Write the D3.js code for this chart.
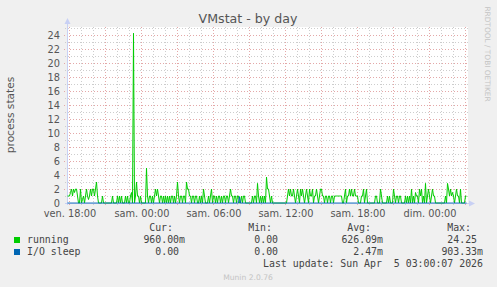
<!DOCTYPE html>
<html><head><meta charset="utf-8">
<script src="https://cdn.jsdelivr.net/npm/d3@7/dist/d3.min.js"></script>
<style>html,body{margin:0;padding:0;background:#F0F0F0;}svg{display:block}</style>
</head><body>
<svg id="chart" width="497" height="287"></svg>
<script>
// ---------- DATA ----------
const title = "VMstat - by day";
const yAxisLabel = "process states";
const startTime = new Date(2026, 3, 3, 17, 50); // first sample, 5-minute steps
const stepMinutes = 5;
const running = [
1,1,1,1.5,2,1,2,1.5,2,2,1,0,0,2,0,0.5,1,0,1,2,
1,0.5,1,2,1,2,2,1,2,3,1,0,0,0,0,1,0,0,0,0,
0,0,0,0,0,1,0,0,0,0,1,0,1,0,1,0,0,0,1,0,
1,0,0,1,1.5,0,24.25,0,1,3,1,1,0,1,0,0,0,0,0,5,
1,0,1,1,0,1,0,1,2,1,2,1,0,1,1,0,1,0,1,0,
1,0,1,0,1,1,0,1,0,1,3,1,0,1,1,0,1,1,0,3,
2,2,1,1,0,1,1,0,1,1,0,0,1,0,1,0,2,1,0,0,
0,1,0,1,2,0,1,1,0,1,0,1,1,0,1,0,1,1,0,1,
1,0,1,2,1,1,0,1,1,0,1,1,0,0,1,0,1,1,0,0,
0,0,0,0,0,1,0,1,1,0,2.8,1,0,1,0,1,0,1,0,3.7,
2,2,1,0,1,0,0,0,0,0,0,0,0,0,0,0,0,0,0,0,
1,2,1,2,1,1,2,1,0,1,2,1,0,2,1,2,1,0,1,2,
1,0,2,1,1,2,0,1,1,2,1,0,1,2,2,1,1,0,1,1,
0,1,1,0,1,1,0,1,1,1,1,1,1,1,1,0,0,1,2,0,
1,1,2,1,2,1,1,2,1,1,1,0,0,0,1,1,2,0,1,2,
0,0,0,0,0,0,0,0,1,1,0,0,0,2,1,0,0,0,0,0,
1,0,1,0,0,0,2,1,0,1,1,0,1,1,0,0,0,0,1,0,
1,0,1,0,2,0,1,0,1.5,1,1,0,2,1,2,0,1,0,2.8,0,
1,2,1,0,1,2,1,1,0,0,0,0,0,0,0,0,0,0,1,0,
2.8,2,1,2,1,1.5,1,0,1,2,1,1,0,2,0,0,0,0,1,0.96
];
const ioSleep = [
0,0,0,0,0,0,0,0,0,0,0,0,0,0,0,0,0,0,0,0,
0,0,0,0,0,0,0,0,0,0,0,0,0,0,0,0,0,0,0,0,
0,0,0,0,0,0,0,0,0,0,0,0,0,0,0,0,0,0,0,0,
0,0,0,0,0,0,0,0,0,0,0,0,0,0,0,0,0,0,0,0,
0,0,0,0,0,0,0,0,0,0,0,0,0,0,0,0,0,0,0,0,
0,0,0,0,0,0,0,0,0,0,0,0,0,0,0,0,0,0,0,0,
0,0,0,0,0,0,0,0,0,0,0,0,0,0,0,0,0,0,0,0,
0,0,0,0,0,0,0,0,0,0,0,0,0,0,0,0,0,0,0,0,
0,0,0,0,0,0,0,0,0,0,0,0,0.9,0,0,0,0,0,0,0,
0,0,0,0,0,0,0,0,0,0,0,0,0,0,0,0,0,0,0,0,
0,0,0,0,0,0,0,0,0,0,0,0,0,0,0,0,0,0,0,0,
0,0,0,0,0,0,0,0,0,0,0,0,0,0,0,0,0,0,0,0,
0,0,0,0,0,0,0,0,0,0,0,0,0,0,0,0,0,0,0,0,
0,0,0,0,0,0,0,0,0,0,0,0,0,0,0,0,0,0,0,0,
0,0,0,0,0,0,0,0,0,0,0,0,0,0,0,0,0,0,0,0,
0,0,0,0,0,0,0,0,0,0,0,0,0,0,0,0,0,0,0,0,
0,0,0,0,0,0,0,0,0,0,0,0,0,0,0,0,0,0,0,0,
0,0,0,0,0,0,0,0,0,0,0,0,0,0,0,0,0,0,0,0,
0,0,0,0,0,0,0,0,0,0,0,0,0,0,0,0,0,0,0,0,
0,0,0,0,0,0,0,0,0,0,0,0,0,0,0,0,0,0,0,0
];
const xTickTimes = [
  new Date(2026,3,3,18,0), new Date(2026,3,4,0,0), new Date(2026,3,4,6,0),
  new Date(2026,3,4,12,0), new Date(2026,3,4,18,0), new Date(2026,3,5,0,0)
];
const xTickLabels = ["ven. 18:00","sam. 00:00","sam. 06:00","sam. 12:00","sam. 18:00","dim. 00:00"];
const yTickValues = [0,2,4,6,8,10,12,14,16,18,20,22,24];
const yMax = 25;
const seriesNames = ["running","I/O sleep"];
const legendHeaders = ["Cur:","Min:","Avg:","Max:"];
const curValues = ["960.00m","0.00\u00A0"];
const minValues = ["0.00\u00A0","0.00\u00A0"];
const avgValues = ["626.09m","2.47m"];
const maxValues = ["24.25\u00A0","903.33m"];
const lastUpdate = "Last update: Sun Apr\u00A0\u00A05 03:00:07 2026";
const footer = "Munin 2.0.76";
const watermark = "RRDTOOL / TOBI OETIKER";

// ---------- STYLE / LAYOUT ----------
const seriesColors = ["#00CC00","#0066B3"];
const plot = {left: 67, right: 467, top: 28, bottom: 203};
const svg = d3.select("#chart");

const endTime = d3.timeMinute.offset(startTime, stepMinutes * running.length);
const x = d3.scaleTime().domain([startTime, endTime]).range([plot.left, plot.right]);
const y = d3.scaleLinear().domain([0, yMax]).range([plot.bottom, plot.top]);
const t = i => d3.timeMinute.offset(startTime, stepMinutes * i);

svg.append("rect").attr("x",0).attr("y",0).attr("width",497).attr("height",287).attr("fill","#F0F0F0");
svg.append("rect").attr("x",plot.left).attr("y",plot.top-1)
  .attr("width",plot.right-plot.left+1).attr("height",plot.bottom-plot.top+1).attr("fill","#FFFFFF");

const grid = svg.append("g").attr("shape-rendering","crispEdges");
// minor grid
const minorY = d3.range(1, yMax+1).filter(v => v % 2 !== 0);
grid.selectAll(".hmin").data(minorY).join("line")
  .attr("x1",plot.left-2).attr("x2",plot.right+1)
  .attr("y1",d=>Math.round(y(d))+0.5).attr("y2",d=>Math.round(y(d))+0.5)
  .attr("stroke","#CDCDCD").attr("stroke-dasharray","1,2");
const hours = d3.timeHour.range(d3.timeHour.ceil(startTime), endTime);
grid.selectAll(".vmin").data(hours.filter(h => h.getHours() % 3 !== 0)).join("line")
  .attr("y1",plot.top-1).attr("y2",plot.bottom+2)
  .attr("x1",d=>Math.round(x(d))+0.5).attr("x2",d=>Math.round(x(d))+0.5)
  .attr("stroke","#CDCDCD").attr("stroke-dasharray","1,2");
// major grid
grid.selectAll(".hmaj").data(yTickValues.filter(v=>v>0)).join("line")
  .attr("x1",plot.left-3).attr("x2",plot.right+1)
  .attr("y1",d=>Math.round(y(d))+0.5).attr("y2",d=>Math.round(y(d))+0.5)
  .attr("stroke","#E4A8A8").attr("stroke-dasharray","1,2");
grid.selectAll(".vmaj").data(hours.filter(h => h.getHours() % 3 === 0)).join("line")
  .attr("y1",plot.top-1).attr("y2",plot.bottom+3)
  .attr("x1",d=>Math.round(x(d))+0.5).attr("x2",d=>Math.round(x(d))+0.5)
  .attr("stroke","#E4A8A8").attr("stroke-dasharray","1,2");

// axes
const axisColor = "#C8D0F4";
svg.append("line").attr("x1",plot.left+0.5).attr("x2",plot.left+0.5).attr("y1",plot.bottom+2).attr("y2",plot.top-6)
  .attr("stroke",axisColor).attr("shape-rendering","crispEdges");
svg.append("line").attr("x1",plot.left-2).attr("x2",plot.right+5).attr("y1",plot.bottom+0.5).attr("y2",plot.bottom+0.5)
  .attr("stroke",axisColor).attr("shape-rendering","crispEdges");
svg.append("path").attr("d",`M${plot.left-2.5},${plot.top-4} L${plot.left+0.5},${plot.top-10} L${plot.left+3.5},${plot.top-4} Z`).attr("fill",axisColor);
svg.append("path").attr("d",`M${plot.right+2},${plot.bottom-2.5} L${plot.right+8},${plot.bottom+0.5} L${plot.right+2},${plot.bottom+3.5} Z`).attr("fill",axisColor);

// tick labels
const lab = svg.append("g").attr("font-family","DejaVu Sans, sans-serif").attr("fill","#555");
lab.selectAll(".yl").data(yTickValues).join("text")
  .attr("x",60).attr("y",d=>y(d)+3.6).attr("text-anchor","end").attr("font-size","9.8px").text(d=>d);
lab.selectAll(".xl").data(xTickTimes).join("text")
  .attr("x",d=>x(d)+1).attr("y",217).attr("text-anchor","middle").attr("font-size","9.8px")
  .text((d,i)=>xTickLabels[i]);

// series lines
const line = d3.line().x((d,i)=>x(t(i))+0.5).y(d=>y(d));
svg.append("path").datum(running).attr("d",line).attr("fill","none").attr("stroke",seriesColors[0]).attr("stroke-width",1);
svg.append("path").datum(ioSleep).attr("d",line).attr("fill","none").attr("stroke",seriesColors[1]).attr("stroke-width",1);

// title etc.
svg.append("text").attr("x",248).attr("y",22.5).attr("text-anchor","middle")
  .attr("font-family","DejaVu Sans, sans-serif").attr("font-size","12.6px").attr("fill","#555").text(title);
svg.append("text").attr("transform","translate(14,115) rotate(-90)").attr("text-anchor","middle")
  .attr("font-family","DejaVu Sans, sans-serif").attr("font-size","10.6px").attr("fill","#555").text(yAxisLabel);
svg.append("text").attr("transform","translate(485,54) rotate(90)").attr("text-anchor","middle")
  .attr("font-family","DejaVu Sans, sans-serif").attr("font-size","7.4px").attr("fill","#C4C4C4").text(watermark);

// legend
const leg = svg.append("g").attr("font-family","DejaVu Sans Mono, monospace").attr("font-size","9.9px")
  .attr("fill","#444");
const colEnds = [185, 284, 383, 483];
leg.selectAll(".hdr").data(legendHeaders).join("text")
  .attr("x",(d,i)=>colEnds[i]-12).attr("y",231).attr("text-anchor","end").text(d=>d);
seriesNames.forEach((name, r) => {
  const yy = 243 + r*12;
  leg.append("rect").attr("x",14).attr("y",yy-6).attr("width",6).attr("height",6).attr("fill",seriesColors[r]);
  leg.append("text").attr("x",27).attr("y",yy).text(name);
  [curValues[r],minValues[r],avgValues[r],maxValues[r]].forEach((v,c)=>{
    leg.append("text").attr("x",colEnds[c]).attr("y",yy).attr("text-anchor","end").text(v);
  });
});
leg.append("text").attr("x",483).attr("y",267).attr("text-anchor","end").text(lastUpdate);
svg.append("text").attr("x",248).attr("y",280).attr("text-anchor","middle")
  .attr("font-family","DejaVu Sans, sans-serif").attr("font-size","7.6px").attr("fill","#C4C4C4").text(footer);
</script>
</body></html>
